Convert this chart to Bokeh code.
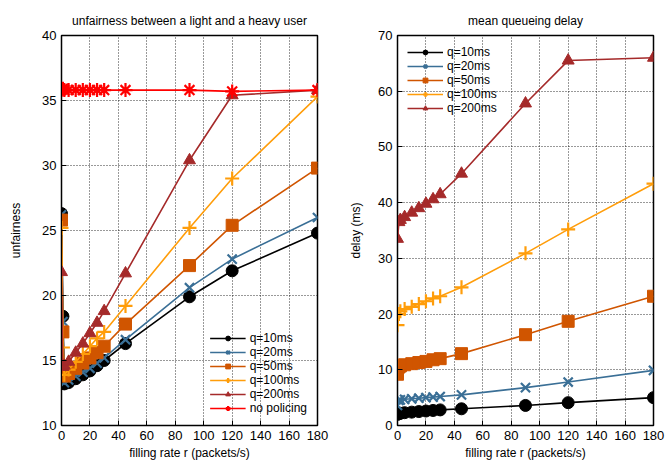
from bokeh.plotting import figure
from bokeh.layouts import row
from bokeh.models import FixedTicker, Legend, LegendItem, Range1d
from bokeh.embed import file_html
from bokeh.resources import INLINE

FONT = "Liberation Sans"

# filling rate r (packets/s)
rate = [0, 1, 2, 5, 10, 15, 20, 25, 30, 45, 90, 120, 180]

# unfairness between a light and a heavy user
unf_q10 = [26.3, 18.4, 13.2, 13.3, 13.6, 13.9, 14.2, 14.6, 15.0, 16.3, 19.9, 21.9, 24.8]
unf_q20 = [26.2, 18.0, 13.3, 13.5, 13.8, 14.1, 14.4, 14.8, 15.2, 16.6, 20.6, 22.8, 26.0]
unf_q50 = [25.8, 17.2, 13.8, 14.0, 14.4, 14.8, 15.2, 15.6, 16.1, 17.8, 22.3, 25.4, 29.8]
unf_q100 = [25.2, 16.0, 13.9, 14.3, 14.9, 15.5, 16.1, 16.7, 17.2, 19.2, 25.2, 29.0, 35.3]
unf_q200 = [21.8, 14.5, 14.6, 14.9, 15.6, 16.3, 17.1, 17.9, 18.8, 21.7, 30.4, 35.4, 35.8]
unf_nopol = [35.8, 35.9, 35.8, 35.8, 35.8, 35.8, 35.8, 35.8, 35.8, 35.8, 35.8, 35.7, 35.8]

# mean queueing delay (ms)
del_q10 = [2.0, 2.1, 2.2, 2.3, 2.4, 2.5, 2.6, 2.7, 2.8, 3.0, 3.6, 4.1, 5.0]
del_q20 = [3.6, 4.5, 4.6, 4.7, 4.8, 4.9, 5.0, 5.1, 5.2, 5.5, 6.8, 7.8, 9.9]
del_q50 = [9.2, 10.5, 10.7, 10.9, 11.1, 11.3, 11.5, 11.8, 12.0, 12.9, 16.3, 18.7, 23.2]
del_q100 = [18.0, 20.0, 20.5, 20.9, 21.3, 21.8, 22.3, 22.8, 23.2, 24.8, 30.9, 35.2, 43.4]
del_q200 = [33.5, 36.5, 36.9, 37.4, 38.2, 39.0, 39.8, 40.6, 41.5, 45.2, 57.8, 65.5, 66.0]

x_ticks = [0, 20, 40, 60, 80, 100, 120, 140, 160, 180]
left_y_ticks = [10, 15, 20, 25, 30, 35, 40]
right_y_ticks = [0, 10, 20, 30, 40, 50, 60, 70]

labels = ["q=10ms", "q=20ms", "q=50ms", "q=100ms", "q=200ms", "no policing"]
colors = ["#000000", "#3a6f96", "#d05500", "#ff9d0a", "#a52a2a", "#ff0000"]
markers = ["circle", "x", "square", "cross", "triangle", "asterisk"]
msizes = [12, 13, 12, 14, 12, 14]


def make_fig(title, ylabel, yr, yticks, w, bl, br, ylab_standoff):
    p = figure(width=w, height=464, output_backend="svg", toolbar_location=None,
               x_range=Range1d(0, 180), y_range=Range1d(*yr),
               min_border_left=bl, min_border_right=br,
               min_border_top=35, min_border_bottom=39)
    p.title.text = title
    p.title.align = "center"
    p.title.text_font = FONT
    p.title.text_font_size = "12px"
    p.title.text_font_style = "normal"
    p.title.text_color = "#000000"
    p.title.standoff = 16
    p.outline_line_color = "#000000"
    p.outline_line_width = 1.5
    p.outline_line_alpha = 1
    p.xaxis.ticker = FixedTicker(ticks=x_ticks)
    p.yaxis.ticker = FixedTicker(ticks=yticks)
    p.xaxis.axis_label = "filling rate r (packets/s)"
    p.yaxis.axis_label = ylabel
    for ax in [p.xaxis[0], p.yaxis[0]]:
        ax.axis_label_text_font = FONT
        ax.axis_label_text_font_size = "12px"
        ax.axis_label_text_font_style = "normal"
        ax.axis_label_text_color = "#000000"
        ax.major_label_text_font = FONT
        ax.major_label_text_font_size = "13px"
        ax.major_label_text_color = "#000000"
        ax.major_tick_in = 5
        ax.major_tick_out = 0
        ax.minor_tick_line_color = None
        ax.axis_line_color = "#000000"
        ax.major_tick_line_color = "#000000"
        ax.major_label_standoff = 5
        ax.axis_label_standoff = 3
    p.yaxis[0].axis_label_standoff = ylab_standoff
    p.grid.grid_line_color = "#000000"
    p.grid.grid_line_dash = "1 2"
    p.grid.grid_line_alpha = 0.8
    p.grid.grid_line_width = 1
    p.background_fill_color = "#ffffff"
    p.border_fill_color = "#ffffff"
    return p


def add_series(p, series, n):
    items = []
    for i in range(n):
        ys = series[i]
        r1 = p.line(rate, ys, line_color=colors[i], line_width=1.6)
        r2 = p.scatter(rate, ys, marker=markers[i], size=msizes[i],
                       fill_color=colors[i], line_color=colors[i],
                       line_width=2.2 if markers[i] in ("x", "cross", "asterisk") else 1)
        items.append(LegendItem(label=labels[i], renderers=[r1, r2]))
    return items


def style_legend(leg):
    leg.background_fill_alpha = 0
    leg.border_line_color = None
    leg.label_text_font = FONT
    leg.label_text_font_size = "12px"
    leg.label_text_color = "#000000"
    leg.glyph_width = 36
    leg.glyph_height = 12
    leg.label_height = 12
    leg.spacing = 0
    leg.padding = 2
    leg.label_standoff = 4
    leg.label_text_line_height = 0.9


p1 = make_fig("unfairness between a light and a heavy user", "unfairness", (10, 40),
              left_y_ticks, 335, 61, 18, 16)
items1 = add_series(p1, [unf_q10, unf_q20, unf_q50, unf_q100, unf_q200, unf_nopol], 6)
leg1 = Legend(items=items1, location="bottom_right")
style_legend(leg1)
p1.add_layout(leg1)

p2 = make_fig("mean queueing delay", "delay (ms)", (0, 70), right_y_ticks, 330, 62, 12, 12)
items2 = add_series(p2, [del_q10, del_q20, del_q50, del_q100, del_q200], 5)
leg2 = Legend(items=items2, location="top_left")
style_legend(leg2)
p2.add_layout(leg2)

layout = row(p1, p2, spacing=0)
open("out.html", "w").write(file_html(layout, INLINE))
